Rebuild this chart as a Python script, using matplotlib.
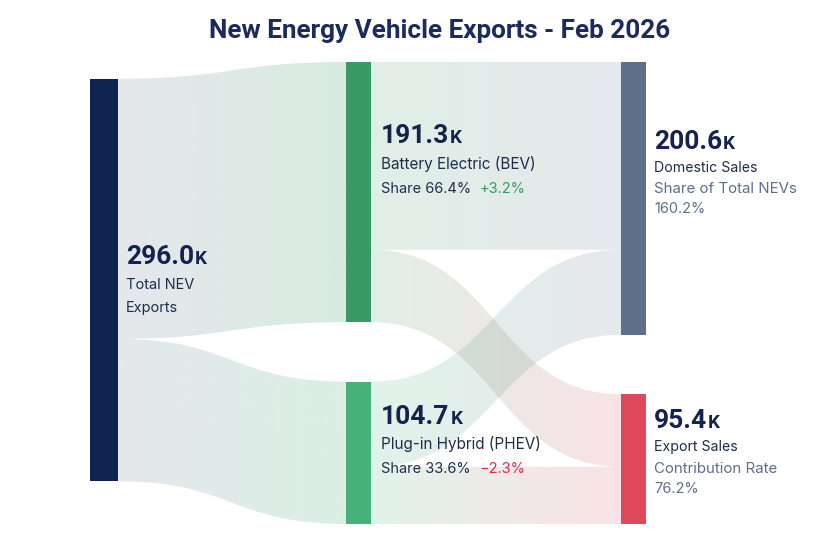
import numpy as np
import matplotlib.pyplot as plt
from matplotlib.path import Path
from matplotlib.patches import PathPatch, Rectangle
from matplotlib.colors import to_rgb

plt.rcParams['font.family'] = ['Roboto', 'DejaVu Sans']
BODY = ['Inter', 'DejaVu Sans']

# data, thousand vehicles
total = 296.0
total_label = ['Total NEV', 'Exports']
types = ['Battery Electric (BEV)', 'Plug-in Hybrid (PHEV)']
type_values = [191.3, 104.7]
type_share = [66.4, 33.6]
type_change = [3.2, -2.3]
markets = ['Domestic Sales', 'Export Sales']
market_values = [200.6, 95.4]
market_notes = ['Share of Total NEVs', 'Contribution Rate']
market_rates = [160.2, 76.2]
# type -> market flows
flows = [[138.0, 53.3],
         [62.6, 42.1]]

NAVY = '#13234d'
TEXT = '#1f2d4d'
GRAY = '#5d6e8c'
total_color = '#0f2452'
type_colors = ['#3a9a65', '#46b27a']
market_colors = ['#5f6f8a', '#e0495b']
change_colors = {True: '#2e9e5b', False: '#e8283c'}

# layout (pixels)
scale = 1.36
col_x = [90, 346, 621]
col_w = [28, 25, 25]
top = 62
bottom = 524

fig = plt.figure(figsize=(8.28, 5.41), dpi=100)
ax = fig.add_axes([0, 0, 1, 1])
ax.set_xlim(0, 828)
ax.set_ylim(541, 0)
ax.axis('off')


def link(x0, x1, y0a, y0b, y1a, y1b, c0, c1, alpha=0.16):
    xm = (x0 + x1) / 2
    verts = [(x0, y0a), (xm, y0a), (xm, y1a), (x1, y1a), (x1, y1b),
             (xm, y1b), (xm, y0b), (x0, y0b), (x0, y0a)]
    codes = [Path.MOVETO, Path.CURVE4, Path.CURVE4, Path.CURVE4, Path.LINETO,
             Path.CURVE4, Path.CURVE4, Path.CURVE4, Path.CLOSEPOLY]
    patch = PathPatch(Path(verts, codes), fc='none', ec='none')
    ax.add_patch(patch)
    n = 256
    t = np.linspace(0, 1, n)[:, None]
    img = np.zeros((1, n, 4))
    img[0, :, :3] = (1 - t) * np.array(to_rgb(c0)) + t * np.array(to_rgb(c1))
    img[0, :, 3] = alpha
    im = ax.imshow(img, extent=(x0, x1, max(y0b, y1b), min(y0a, y1a)),
                   aspect='auto', interpolation='bilinear', zorder=1)
    im.set_clip_path(patch)


# node positions
left_top = 280 - total * scale / 2
gap2 = (bottom - top) - sum(type_values) * scale
type_y = [top, top + type_values[0] * scale + gap2]
gap3 = (bottom - top) - sum(market_values) * scale
market_y = [top, top + market_values[0] * scale + gap3]

# total -> types
y = left_top
for i, v in enumerate(type_values):
    h = v * scale
    link(col_x[0] + col_w[0], col_x[1], y, y + h, type_y[i], type_y[i] + h,
         '#7d8aa0', type_colors[i], alpha=0.2)
    y += h

# types -> markets
m_off = [0.0, 0.0]
for i in range(2):
    s_off = 0.0
    for j in range(2):
        h = flows[i][j] * scale
        link(col_x[1] + col_w[1], col_x[2],
             type_y[i] + s_off, type_y[i] + s_off + h,
             market_y[j] + m_off[j], market_y[j] + m_off[j] + h,
             type_colors[i], market_colors[j])
        s_off += h
        m_off[j] += h

# nodes
ax.add_patch(Rectangle((col_x[0], left_top), col_w[0], total * scale,
                       color=total_color, zorder=3, lw=0))
for i, v in enumerate(type_values):
    ax.add_patch(Rectangle((col_x[1], type_y[i]), col_w[1], v * scale,
                           color=type_colors[i], zorder=3, lw=0))
for j, v in enumerate(market_values):
    ax.add_patch(Rectangle((col_x[2], market_y[j]), col_w[2], v * scale,
                           color=market_colors[j], zorder=3, lw=0))

fig.canvas.draw()
renderer = fig.canvas.get_renderer()


def right_edge(t):
    bb = t.get_window_extent(renderer)
    return ax.transData.inverted().transform((bb.x1, bb.y0))[0]


def big_value(x, y, value):
    t = ax.text(x, y, f'{value:.1f}', fontsize=19, fontweight='bold',
                color=NAVY, va='baseline', zorder=5)
    ax.text(right_edge(t) + 1, y, 'K', fontsize=13.5, fontweight='bold',
            color=NAVY, va='baseline', zorder=5)


def label(x, y, s, color=TEXT, size=10.5):
    return ax.text(x, y, s, fontsize=size, color=color, va='baseline',
                   family=BODY, zorder=5)


ax.text(440, 38, 'New Energy Vehicle Exports - Feb 2026', fontsize=18.8,
        fontweight='bold', color='#1a2b5c', ha='center', va='baseline')

# left label
big_value(126, 264, total)
label(126, 289, total_label[0])
label(126, 312, total_label[1])

# type labels
type_label_y = [(143, 169, 193), (424, 449, 473)]
for i in range(2):
    y1, y2, y3 = type_label_y[i]
    big_value(381, y1, type_values[i])
    label(381, y2, types[i], size=11)
    t = label(381, y3, f'Share {type_share[i]:.1f}%')
    ch = type_change[i]
    sign = '+' if ch >= 0 else '\u2212'
    label(right_edge(t) + 9, y3, f'{sign}{abs(ch):.1f}%',
          color=change_colors[ch >= 0])

# market labels
market_label_y = [(149, 172, 193, 213), (428, 451, 473, 493)]
for j in range(2):
    y1, y2, y3, y4 = market_label_y[j]
    big_value(654, y1, market_values[j])
    label(654, y2, markets[j], size=10.2)
    label(654, y3, market_notes[j], color=GRAY, size=10.8)
    label(654, y4, f'{market_rates[j]:.1f}%', color=GRAY, size=10.5)

fig.savefig('out.png', dpi=100, facecolor='white')
